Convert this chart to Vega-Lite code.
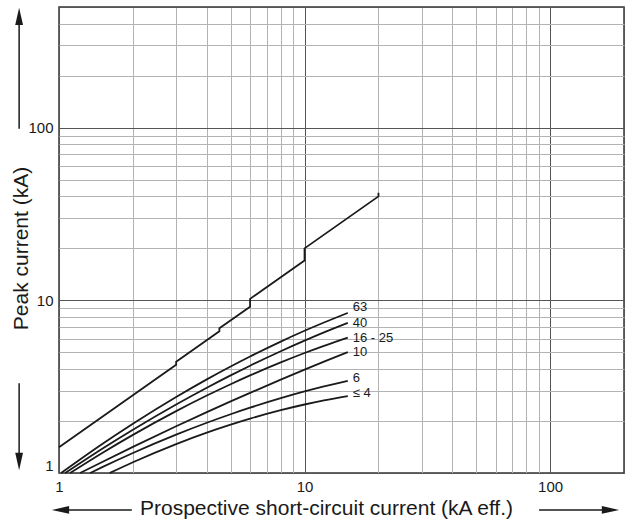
{
  "$schema": "https://vega.github.io/schema/vega-lite/v6.json",
  "width": 565,
  "height": 466,
  "autosize": {"type": "none"},
  "padding": {"left": 59, "top": 7, "right": 2, "bottom": 51},
  "config": {
    "font": "Liberation Sans",
    "view": {"stroke": "#333333", "strokeWidth": 1.5}
  },
  "datasets": {
    "curves": [
      {"s": "unlimited", "i": 0, "x": 1, "y": 1.41},
      {"s": "unlimited", "i": 1, "x": 3, "y": 4.23},
      {"s": "unlimited", "i": 2, "x": 3, "y": 4.41},
      {"s": "unlimited", "i": 3, "x": 4.5, "y": 6.62},
      {"s": "unlimited", "i": 4, "x": 4.5, "y": 6.89},
      {"s": "unlimited", "i": 5, "x": 6, "y": 9.18},
      {"s": "unlimited", "i": 6, "x": 6, "y": 10.2},
      {"s": "unlimited", "i": 7, "x": 10, "y": 17},
      {"s": "unlimited", "i": 8, "x": 10, "y": 20},
      {"s": "unlimited", "i": 9, "x": 20, "y": 40},
      {"s": "unlimited", "i": 10, "x": 20, "y": 42},
      {"s": "63", "i": 0, "x": 1.02, "y": 1},
      {"s": "63", "i": 1, "x": 1.5, "y": 1.472},
      {"s": "63", "i": 2, "x": 2, "y": 1.929},
      {"s": "63", "i": 3, "x": 3, "y": 2.755},
      {"s": "63", "i": 4, "x": 4, "y": 3.485},
      {"s": "63", "i": 5, "x": 5, "y": 4.139},
      {"s": "63", "i": 6, "x": 6, "y": 4.73},
      {"s": "63", "i": 7, "x": 8, "y": 5.771},
      {"s": "63", "i": 8, "x": 10, "y": 6.664},
      {"s": "63", "i": 9, "x": 12, "y": 7.44},
      {"s": "63", "i": 10, "x": 15, "y": 8.457},
      {"s": "40", "i": 0, "x": 1.06, "y": 1},
      {"s": "40", "i": 1, "x": 1.5, "y": 1.382},
      {"s": "40", "i": 2, "x": 2, "y": 1.781},
      {"s": "40", "i": 3, "x": 3, "y": 2.494},
      {"s": "40", "i": 4, "x": 4, "y": 3.119},
      {"s": "40", "i": 5, "x": 5, "y": 3.678},
      {"s": "40", "i": 6, "x": 6, "y": 4.183},
      {"s": "40", "i": 7, "x": 8, "y": 5.074},
      {"s": "40", "i": 8, "x": 10, "y": 5.842},
      {"s": "40", "i": 9, "x": 12, "y": 6.52},
      {"s": "40", "i": 10, "x": 15, "y": 7.403},
      {"s": "16 - 25", "i": 0, "x": 1.11, "y": 1},
      {"s": "16 - 25", "i": 1, "x": 1.5, "y": 1.307},
      {"s": "16 - 25", "i": 2, "x": 2, "y": 1.663},
      {"s": "16 - 25", "i": 3, "x": 3, "y": 2.282},
      {"s": "16 - 25", "i": 4, "x": 4, "y": 2.809},
      {"s": "16 - 25", "i": 5, "x": 5, "y": 3.267},
      {"s": "16 - 25", "i": 6, "x": 6, "y": 3.675},
      {"s": "16 - 25", "i": 7, "x": 8, "y": 4.37},
      {"s": "16 - 25", "i": 8, "x": 10, "y": 4.953},
      {"s": "16 - 25", "i": 9, "x": 12, "y": 5.452},
      {"s": "16 - 25", "i": 10, "x": 15, "y": 6.084},
      {"s": "10", "i": 0, "x": 1.22, "y": 1},
      {"s": "10", "i": 1, "x": 1.5, "y": 1.159},
      {"s": "10", "i": 2, "x": 2, "y": 1.416},
      {"s": "10", "i": 3, "x": 3, "y": 1.864},
      {"s": "10", "i": 4, "x": 4, "y": 2.251},
      {"s": "10", "i": 5, "x": 5, "y": 2.597},
      {"s": "10", "i": 6, "x": 6, "y": 2.911},
      {"s": "10", "i": 7, "x": 8, "y": 3.471},
      {"s": "10", "i": 8, "x": 10, "y": 3.966},
      {"s": "10", "i": 9, "x": 12, "y": 4.412},
      {"s": "10", "i": 10, "x": 15, "y": 5.012},
      {"s": "6", "i": 0, "x": 1.34, "y": 1},
      {"s": "6", "i": 1, "x": 1.5, "y": 1.081},
      {"s": "6", "i": 2, "x": 2, "y": 1.306},
      {"s": "6", "i": 3, "x": 3, "y": 1.668},
      {"s": "6", "i": 4, "x": 4, "y": 1.954},
      {"s": "6", "i": 5, "x": 5, "y": 2.189},
      {"s": "6", "i": 6, "x": 6, "y": 2.389},
      {"s": "6", "i": 7, "x": 8, "y": 2.712},
      {"s": "6", "i": 8, "x": 10, "y": 2.966},
      {"s": "6", "i": 9, "x": 12, "y": 3.172},
      {"s": "6", "i": 10, "x": 15, "y": 3.421},
      {"s": "≤ 4", "i": 0, "x": 1.61, "y": 1},
      {"s": "≤ 4", "i": 1, "x": 2, "y": 1.154},
      {"s": "≤ 4", "i": 2, "x": 3, "y": 1.471},
      {"s": "≤ 4", "i": 3, "x": 4, "y": 1.713},
      {"s": "≤ 4", "i": 4, "x": 5, "y": 1.905},
      {"s": "≤ 4", "i": 5, "x": 6, "y": 2.064},
      {"s": "≤ 4", "i": 6, "x": 8, "y": 2.311},
      {"s": "≤ 4", "i": 7, "x": 10, "y": 2.493},
      {"s": "≤ 4", "i": 8, "x": 12, "y": 2.634},
      {"s": "≤ 4", "i": 9, "x": 15, "y": 2.792}
    ],
    "shafts": [
      {"dir": "up", "x": 0.688, "x2": 0.688, "y": 98.7, "y2": 444},
      {"dir": "down", "x": 0.688, "x2": 0.688, "y": 3.31, "y2": 1.16},
      {"dir": "left", "x": 1.98, "x2": 0.98, "y": 0.611, "y2": 0.611},
      {"dir": "right", "x": 90.2, "x2": 176, "y": 0.611, "y2": 0.611}
    ],
    "heads": [
      {"dir": "up", "x": 0.688, "y": 441},
      {"dir": "down", "x": 0.688, "y": 1.166},
      {"dir": "left", "x": 1.014, "y": 0.611},
      {"dir": "right", "x": 176.2, "y": 0.611}
    ]
  },
  "encoding": {
    "x": {
      "field": "x", "type": "quantitative",
      "scale": {"type": "log", "domain": [1, 200], "nice": false},
      "axis": {
        "values": [1, 2, 3, 4, 5, 6, 7, 8, 9, 10, 20, 30, 40, 50, 60, 70, 80, 90, 100, 200],
        "labelExpr": "(datum.value == 1 || datum.value == 10 || datum.value == 100) ? '' + datum.value : ''",
        "grid": true,
        "gridColor": {"condition": {"test": "datum.value == 10 || datum.value == 100 || datum.value == 1 || datum.value == 200", "value": "#555555"}, "value": "#b3b3b3"},
        "gridWidth": 1,
        "ticks": false,
        "domain": false,
        "labelFlush": false,
        "labelOverlap": false,
        "labelFontSize": 15,
        "labelColor": "#1a1a1a",
        "labelPadding": 6,
        "title": "Prospective short-circuit current (kA eff.)",
        "titleFontSize": 21,
        "titleFontWeight": "normal",
        "titleColor": "#1a1a1a",
        "titleX": 267,
        "titleY": 41,
        "titleAlign": "center",
        "titleBaseline": "alphabetic"
      }
    },
    "y": {
      "field": "y", "type": "quantitative",
      "scale": {"type": "log", "domain": [1, 500], "nice": false},
      "axis": {
        "values": [1, 2, 3, 4, 5, 6, 7, 8, 9, 10, 20, 30, 40, 50, 60, 70, 80, 90, 100, 200, 300, 400, 500],
        "labelExpr": "(datum.value == 1 || datum.value == 10 || datum.value == 100) ? '' + datum.value : ''",
        "grid": true,
        "gridColor": {"condition": {"test": "datum.value == 10 || datum.value == 100 || datum.value == 1 || datum.value == 500", "value": "#555555"}, "value": "#b3b3b3"},
        "gridWidth": 1,
        "ticks": false,
        "domain": false,
        "labelFlush": true,
        "labelOverlap": false,
        "labelFontSize": 15,
        "labelColor": "#1a1a1a",
        "labelPadding": 6,
        "title": "Peak current (kA)",
        "titleFontSize": 21,
        "titleFontWeight": "normal",
        "titleColor": "#1a1a1a",
        "titleAngle": 270,
        "titleX": -38,
        "titleY": 241,
        "titleAlign": "center",
        "titleBaseline": "middle"
      }
    }
  },
  "layer": [
    {
      "data": {"name": "curves"},
      "transform": [{"filter": "datum.s !== 'unlimited'"}],
      "mark": {"type": "line", "interpolate": "monotone", "color": "#1a1a1a", "strokeWidth": 1.8},
      "encoding": {
        "detail": {"field": "s", "type": "nominal"}
      }
    },
    {
      "data": {"name": "curves"},
      "transform": [{"filter": "datum.s === 'unlimited'"}],
      "mark": {"type": "line", "color": "#1a1a1a", "strokeWidth": 1.8},
      "encoding": {
        "order": {"field": "i", "type": "quantitative"}
      }
    },
    {
      "data": {"name": "curves"},
      "transform": [{"filter": "datum.s === '63' && datum.x == 15"}],
      "mark": {"type": "text", "align": "left", "baseline": "middle", "dx": 5, "dy": -6, "fontSize": 13, "color": "#1a1a1a"},
      "encoding": {
        "text": {"field": "s", "type": "nominal"}
      }
    },
    {
      "data": {"name": "curves"},
      "transform": [{"filter": "(datum.s === '40' || datum.s === '16 - 25' || datum.s === '10') && datum.x == 15"}],
      "mark": {"type": "text", "align": "left", "baseline": "middle", "dx": 5, "dy": 0, "fontSize": 13, "color": "#1a1a1a"},
      "encoding": {
        "text": {"field": "s", "type": "nominal"}
      }
    },
    {
      "data": {"name": "curves"},
      "transform": [{"filter": "(datum.s === '6' || datum.s === '≤ 4') && datum.x == 15"}],
      "mark": {"type": "text", "align": "left", "baseline": "middle", "dx": 5, "dy": -3, "fontSize": 13, "color": "#1a1a1a"},
      "encoding": {
        "text": {"field": "s", "type": "nominal"}
      }
    },
    {
      "data": {"name": "shafts"},
      "mark": {"type": "rule", "color": "#1a1a1a", "strokeWidth": 1.5},
      "encoding": {
        "x2": {"field": "x2"},
        "y2": {"field": "y2"}
      }
    },
    {
      "data": {"name": "heads"},
      "mark": {"type": "point", "shape": "M0,-1L0.45,1L-0.45,1Z", "filled": true, "size": 300, "color": "#1a1a1a", "opacity": 1, "strokeWidth": 0},
      "encoding": {
        "angle": {"field": "dir", "type": "nominal", "scale": {"type": "ordinal", "domain": ["up", "right", "down", "left"], "range": [0, 90, 180, 270]}, "legend": null}
      }
    }
  ]
}
